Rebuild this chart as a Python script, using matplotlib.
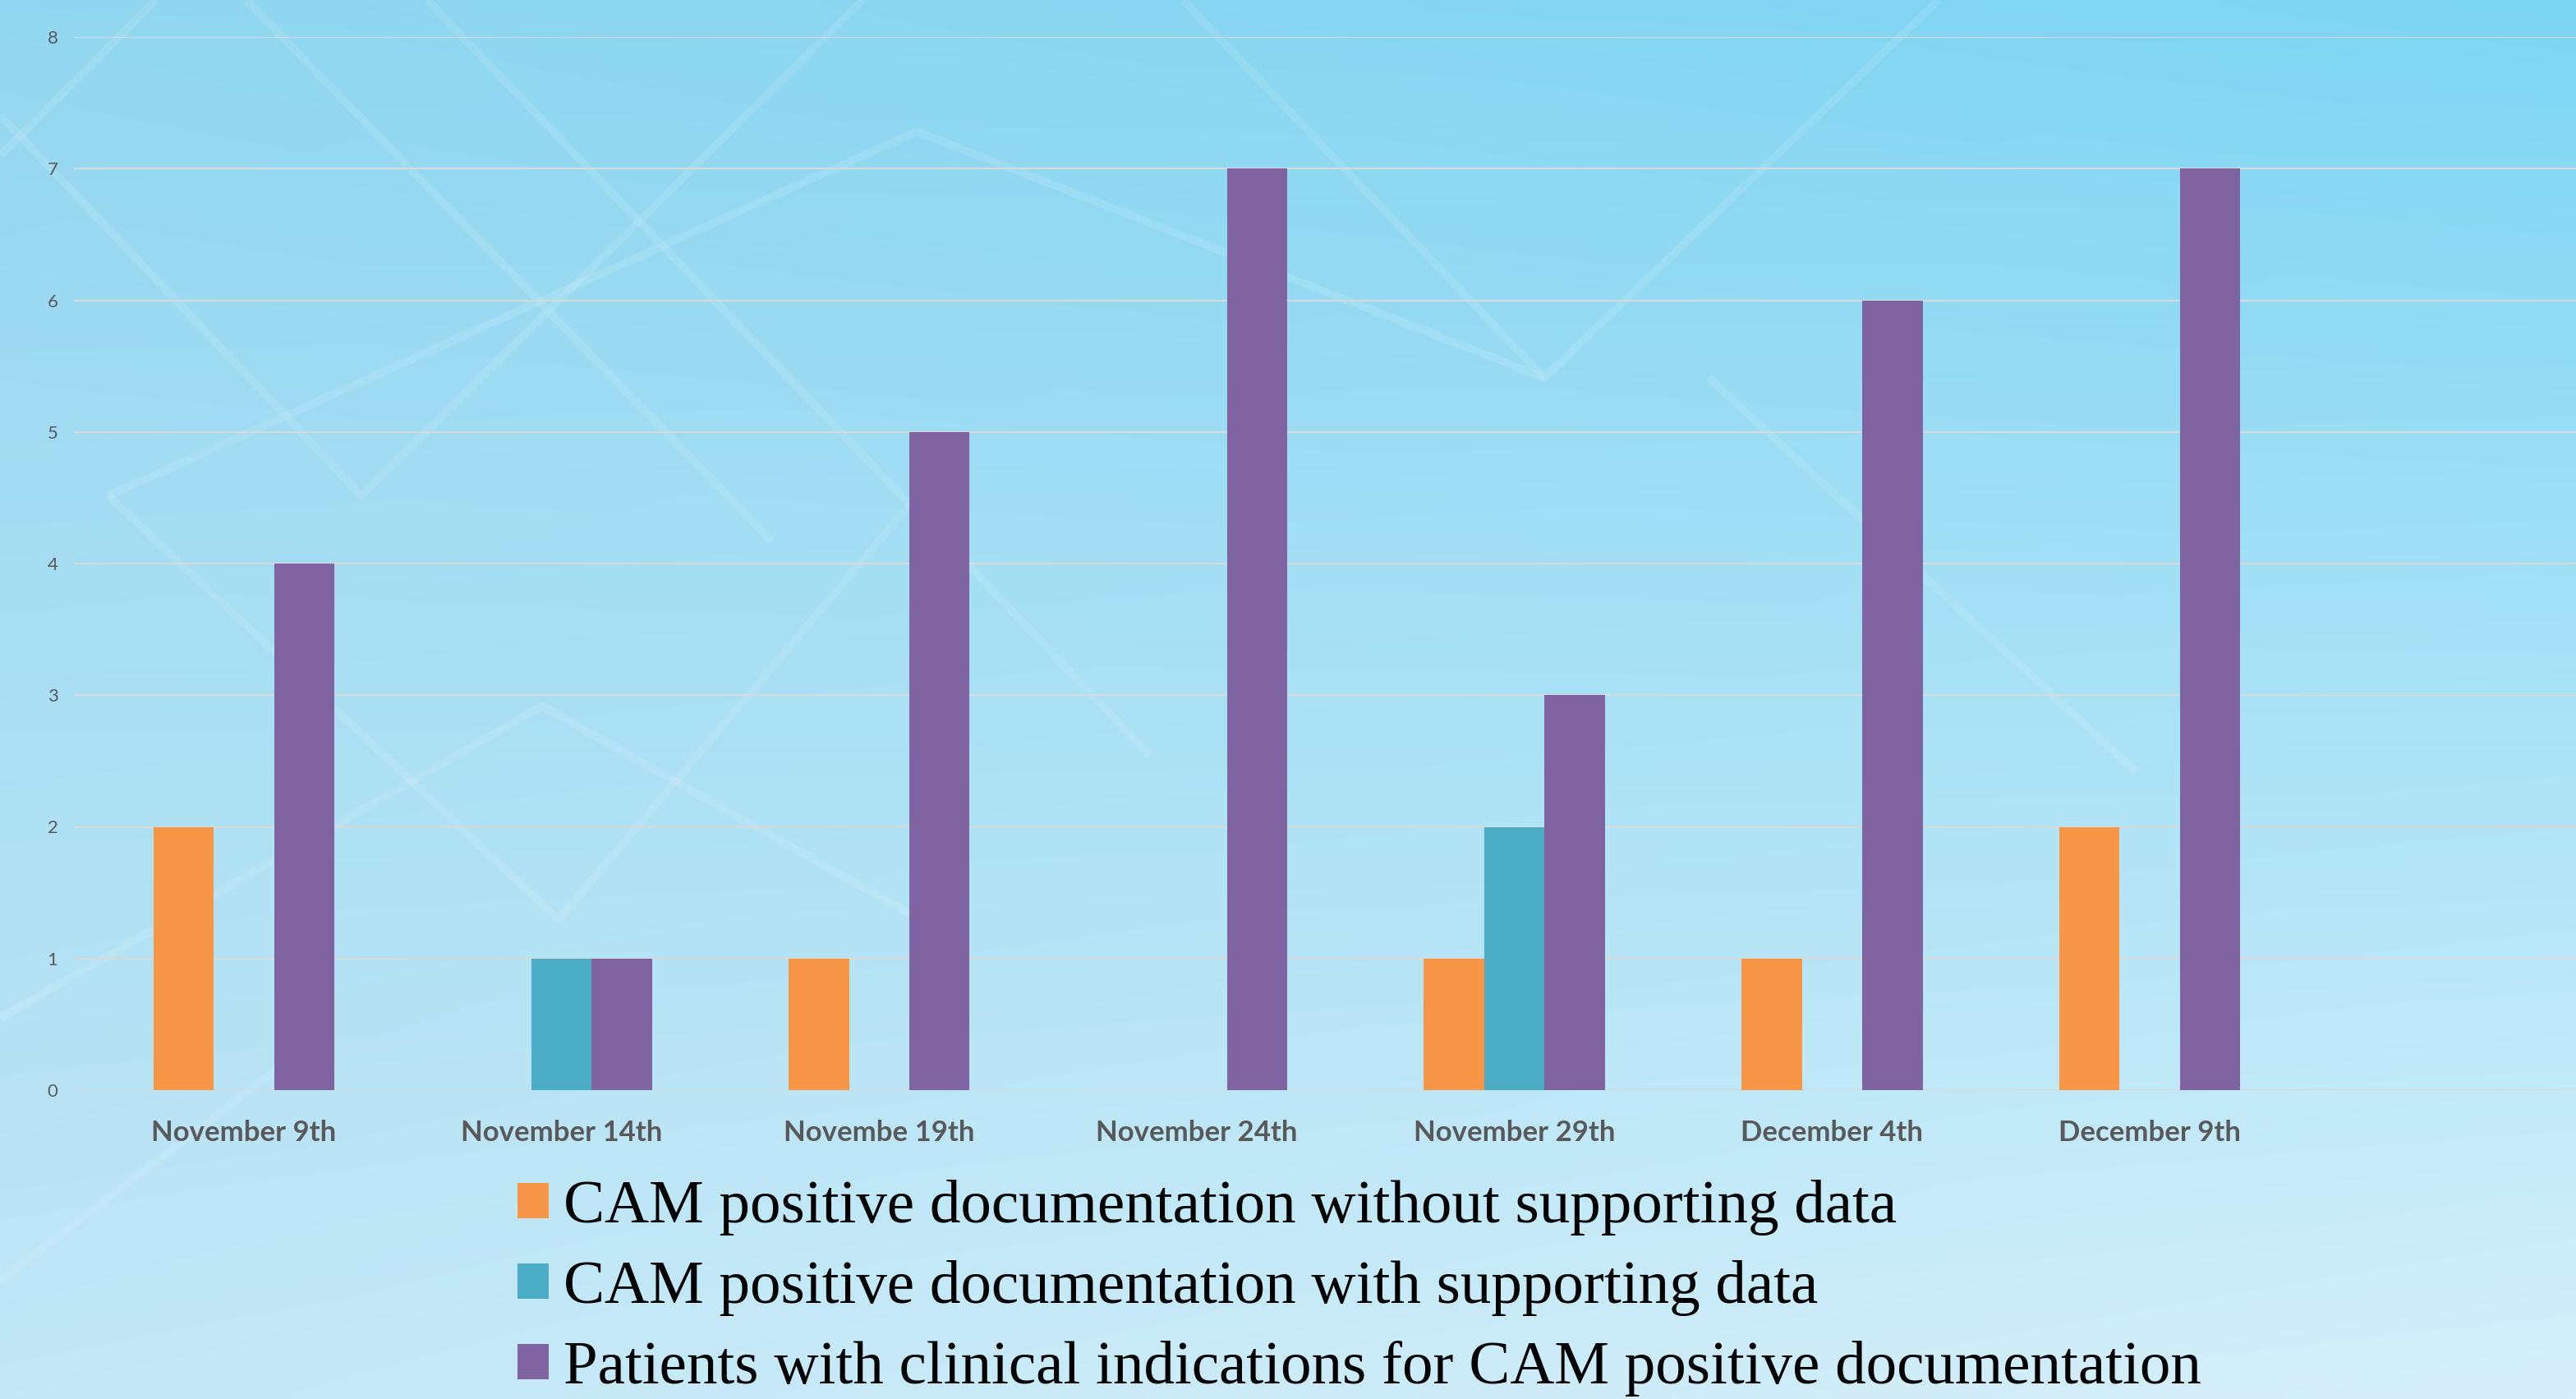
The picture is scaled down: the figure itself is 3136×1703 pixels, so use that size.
import matplotlib
matplotlib.use("Agg")
import matplotlib.pyplot as plt
import numpy as np

# dados do gráfico
datas = ["November 9th", "November 14th", "Novembe 19th", "November 24th",
         "November 29th", "December 4th", "December 9th"]
sem_suporte = [2, 0, 1, 0, 1, 1, 2]
com_suporte = [0, 1, 0, 0, 2, 0, 0]
indicacoes = [4, 1, 5, 7, 3, 6, 7]
rotulos = ["CAM positive documentation without supporting data",
           "CAM positive documentation with supporting data",
           "Patients with clinical indications for CAM positive documentation"]
cores = ["#F79646", "#4BACC6", "#8064A2"]
y_ticks = [0, 1, 2, 3, 4, 5, 6, 7, 8]

W, H = 3136, 1703
fig = plt.figure(figsize=(W / 100, H / 100), dpi=100)

# fundo em degradê com linhas diagonais claras
bg = fig.add_axes([0, 0, 1, 1], zorder=-5)
tl = np.array([146, 215, 240]) / 255
tr = np.array([124, 213, 243]) / 255
bl = np.array([194, 231, 246]) / 255
br = np.array([214, 240, 250]) / 255
u = np.linspace(0, 1, 200)[None, :, None]
v = np.linspace(0, 1, 120)[:, None, None]
img = (1 - v) * ((1 - u) * tl + u * tr) + v * ((1 - u) * bl + u * br)
bg.imshow(img, extent=[0, 1568, 852, 0], aspect="auto", interpolation="bilinear")
linhas_fundo = [
    [(0, 95), (95, 0)],
    [(0, 70), (220, 302), (525, 0)],
    [(66, 302), (558, 80), (940, 230)],
    [(66, 302), (340, 560), (560, 300)],
    [(150, 0), (470, 330)],
    [(260, 0), (700, 460)],
    [(0, 620), (330, 430), (560, 560)],
    [(720, 0), (940, 230), (1180, 0)],
    [(0, 780), (170, 650)],
    [(1040, 230), (1300, 470)],
]
for pts in linhas_fundo:
    xs, ys = zip(*pts)
    bg.plot(xs, ys, color="white", lw=7, alpha=0.11, solid_capstyle="butt")
bg.set_xlim(0, 1568)
bg.set_ylim(852, 0)
bg.axis("off")

# eixo principal
ax = fig.add_axes([90 / W, (H - 1327) / H, 1 - 90 / W, (1327 - 45) / H])
ax.patch.set_alpha(0)
x = np.arange(len(datas))
w = 0.19
series = [sem_suporte, com_suporte, indicacoes]
for k, (vals, cor, rot) in enumerate(zip(series, cores, rotulos)):
    ax.bar(x + (k - 1) * w, vals, width=w, color=cor, label=rot, zorder=3)

ax.set_xlim(-0.535, 7.342)
ax.set_ylim(0, 8)
ax.set_yticks(y_ticks)
ax.grid(axis="y", color="#D9D9D9", lw=1.5, zorder=0)
ax.set_axisbelow(True)
for s in ax.spines.values():
    s.set_visible(False)
ax.set_xticks(x)
ax.set_xticklabels(datas, fontfamily="Lato", fontweight="bold", fontsize=25, color="#595959")
ax.tick_params(axis="x", length=0, pad=26)
ax.tick_params(axis="y", length=0, pad=14, labelsize=16, labelcolor="#595959")
for t in ax.get_yticklabels():
    t.set_fontfamily("Lato")

leg = fig.legend(loc="upper left", bbox_to_anchor=(630 / W, 1 - 1436 / H),
                 frameon=False, borderpad=0, borderaxespad=0,
                 prop={"family": "Liberation Serif", "size": 54},
                 handlelength=0.51, handleheight=0.51, handletextpad=0.24,
                 labelspacing=0.40)

fig.savefig("out.png", dpi=100)
